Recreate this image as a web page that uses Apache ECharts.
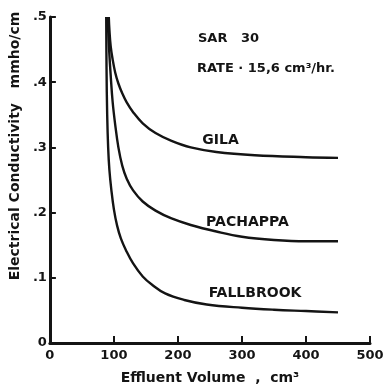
<!DOCTYPE html>
<html>
<head>
<meta charset="utf-8">
<script src="https://cdn.jsdelivr.net/npm/echarts@6/dist/echarts.min.js"></script>
<style>
  html, body { margin: 0; padding: 0; background: #fff; }
  #container { width: 391px; height: 390px; }
</style>
</head>
<body>
<div id="container"></div>
<script>
const dom = document.getElementById('container')
const myChart = echarts.init(dom, null, { renderer: 'canvas' })

const font = 'DejaVu Sans'
const ink = '#141414'

// readings of the effluent curves: [volume cm3, conductivity mmho/cm]
const gila = [
    [92, 0.5], [93, 0.48], [95, 0.455], [98, 0.435], [102, 0.415], [107, 0.398],
    [113, 0.383], [120, 0.369], [130, 0.354], [145, 0.337], [165, 0.322], [190, 0.31],
    [220, 0.3], [260, 0.293], [320, 0.288], [400, 0.285], [450, 0.284]
]
const pachappa = [
    [90, 0.5], [91, 0.48], [92.5, 0.45], [95, 0.41], [98, 0.37], [102, 0.335],
    [107, 0.3], [113, 0.272], [120, 0.252], [130, 0.234], [145, 0.217], [165, 0.203],
    [190, 0.191], [220, 0.181], [260, 0.171], [300, 0.163], [350, 0.158], [400, 0.156],
    [450, 0.156]
]
const fallbrook = [
    [88, 0.5], [88.5, 0.42], [89.5, 0.35], [91, 0.3], [93, 0.265], [96, 0.235],
    [100, 0.205], [105, 0.18], [111, 0.16], [119, 0.142], [130, 0.122], [145, 0.102],
    [160, 0.089], [180, 0.076], [210, 0.066], [245, 0.059], [300, 0.054], [350, 0.051],
    [400, 0.049], [450, 0.047]
]

const seriesNames = ['GILA', 'PACHAPPA', 'FALLBROOK']
// where each curve name is written (left edge, vertical centre)
const nameSpots = [[238, 0.311], [244, 0.185], [248, 0.076]]

const notes = ['SAR   30', 'RATE · 15,6 cm³/hr.']

const makeSeries = (name, data, spot) => ({
    name: name,
    type: 'line',
    data: data,
    smooth: 0.4,
    symbol: 'none',
    lineStyle: { color: ink, width: 2.4 },
    markPoint: {
        symbol: 'circle',
        symbolSize: 0,
        data: [{ coord: spot, value: name }],
        label: {
            show: true,
            position: 'right',
            distance: 0,
            formatter: name,
            color: ink,
            fontFamily: font,
            fontWeight: 'bold',
            fontSize: 14
        }
    }
})

const option = {
    backgroundColor: '#fff',
    animation: false,
    grid: { left: 46, right: 21, top: 17, bottom: 45 },
    xAxis: {
        type: 'value',
        min: 0,
        max: 500,
        interval: 100,
        name: 'Effluent Volume  ,  cm³',
        nameLocation: 'middle',
        nameGap: 28,
        nameTextStyle: { color: ink, fontFamily: font, fontWeight: 'bold', fontSize: 14 },
        axisLine: { lineStyle: { color: ink, width: 3 } },
        axisTick: { inside: true, length: 7, lineStyle: { color: ink, width: 2 } },
        axisLabel: { color: ink, fontFamily: font, fontWeight: 'bold', fontSize: 13, margin: 6 },
        splitLine: { show: false }
    },
    yAxis: {
        type: 'value',
        min: 0,
        max: 0.5,
        interval: 0.1,
        name: 'Electrical Conductivity   mmho/cm',
        nameLocation: 'middle',
        nameGap: 22,
        nameTextStyle: {
            color: ink, fontFamily: font, fontWeight: 'bold', fontSize: 14,
            padding: [0, 0, 0, 68]
        },
        axisLine: { show: true, lineStyle: { color: ink, width: 3 } },
        axisTick: { show: true, inside: true, length: 6, lineStyle: { color: ink, width: 2 } },
        axisLabel: {
            color: ink, fontFamily: font, fontWeight: 'bold', fontSize: 13,
            margin: 3,
            formatter: (v) => v === 0 ? '0' : '.' + Math.round(v * 10)
        },
        splitLine: { show: false }
    },
    graphic: [
        {
            type: 'text', left: 198, top: 32,
            style: { text: notes[0], fill: ink, font: 'bold 13px "DejaVu Sans"' }
        },
        {
            type: 'text', left: 197, top: 62,
            style: { text: notes[1], fill: ink, font: 'bold 13px "DejaVu Sans"' }
        }
    ],
    series: [
        makeSeries(seriesNames[0], gila, nameSpots[0]),
        makeSeries(seriesNames[1], pachappa, nameSpots[1]),
        makeSeries(seriesNames[2], fallbrook, nameSpots[2])
    ]
}

myChart.setOption(option)
</script>
</body>
</html>
